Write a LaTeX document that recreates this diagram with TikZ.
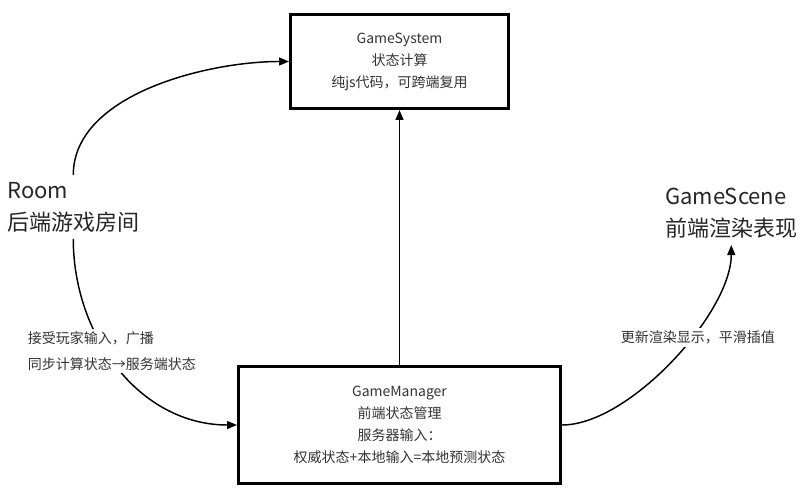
\documentclass[tikz,border=0pt]{standalone}
\usepackage{fontspec}
\setmainfont{Noto Sans CJK SC}
\usetikzlibrary{arrows.meta}
\definecolor{ink}{HTML}{333333}

\begin{document}
\begin{tikzpicture}[x=0.75pt, y=0.75pt,
  box/.style={draw, line width=2pt, align=center, text=ink, font=\fontsize{10.5}{16.5}\selectfont},
  big/.style={align=left, inner xsep=0pt, inner ysep=5pt, text=black!85, font=\fontsize{16.5}{24}\selectfont},
  lbl/.style={fill=white, align=left, inner sep=2pt, text=ink, font=\fontsize{10.5}{19.5}\selectfont},
  flow/.style={line width=1.1pt, -{Triangle[length=7.5pt,width=6pt]}}]
  \useasboundingbox (0,0) rectangle (805,500);

  \node at (399.5,438.5) [box, minimum width=163.75pt, minimum height=70.75pt] (sys) {GameSystem\\状态计算\\纯js代码，可跨端复用};
  \node at (399.5,75) [box, minimum width=241.75pt, minimum height=88pt] (mgr) {GameManager\\前端状态管理\\服务器输入：\\权威状态+本地输入=本地预测状态};
  \node at (7,293) [big, anchor=west] (room) {Room\\后端游戏房间};
  \node at (665,287) [big, anchor=west] (scene) {GameScene\\前端渲染表现};

  \draw[flow] (room.north) to[out=90, in=180, looseness=0.85] (sys.west);
  \draw[flow] (room.south) to[out=-90, in=180] node[lbl, pos=0.42, xshift=4.5pt] {接受玩家输入，广播\\同步计算状态→服务端状态} (mgr.west);
  \draw[flow] (mgr.north) -- (sys.south);
  \draw[flow] (mgr.east) to[out=0, in=-90, looseness=0.7] node[lbl, pos=0.6, xshift=5pt] {更新渲染显示，平滑插值} (scene.south);
\end{tikzpicture}
\end{document}
